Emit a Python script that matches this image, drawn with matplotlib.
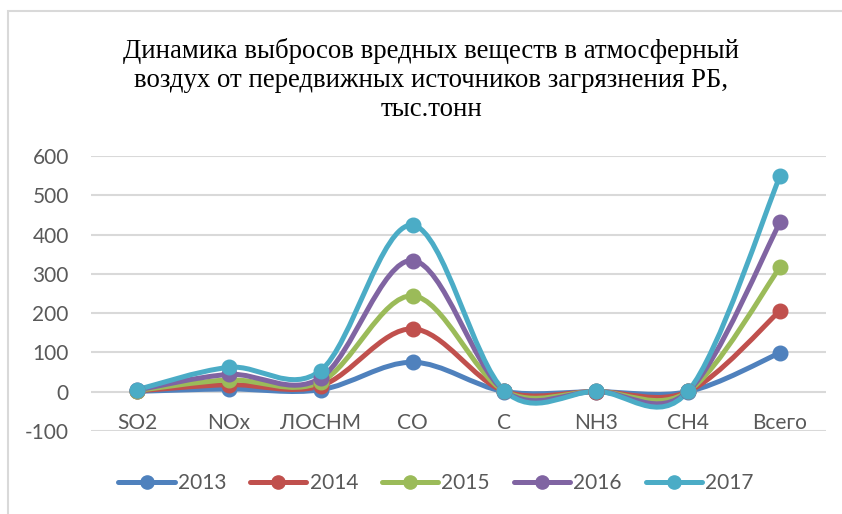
import numpy as np
import matplotlib
matplotlib.use("Agg")
import matplotlib.pyplot as plt
from matplotlib.path import Path
from matplotlib.patches import PathPatch, Rectangle
from matplotlib.lines import Line2D
from matplotlib.transforms import offset_copy

categories = ["SO2", "NOx", "ЛОСНМ", "CO", "C", "NH3", "CH4", "Всего"]
years = ["2013", "2014", "2015", "2016", "2017"]
values = {
    "2013": [1, 7, 5, 75, 0.5, 0.2, 0.3, 99],
    "2014": [2, 18, 15, 160, 1.0, 0.4, 0.6, 206],
    "2015": [3, 30, 25, 244, 1.5, 0.6, 0.9, 317],
    "2016": [4, 44, 35, 334, 2.0, 0.8, 1.2, 431],
    "2017": [5, 62, 54, 424, 2.5, 1.0, 1.5, 549],
}
colors = ["#4f81bd", "#c0504d", "#9bbb59", "#8064a2", "#4bacc6"]
yticks = [-100, 0, 100, 200, 300, 400, 500, 600]

W, H, DPI = 842, 514, 100
FONT = "Lato"
FS = 15
TXT = "#595959"

fig = plt.figure(figsize=(W / DPI, H / DPI), dpi=DPI)

# chart-area border (left and top edges visible)
fig.patches.append(Rectangle((8 / W, -0.1), 1.2, 1 - 11 / H + 0.1,
                             transform=fig.transFigure, fill=False,
                             edgecolor="#d9d9d9", linewidth=1.5))

ax = fig.add_axes([91 / W, 1 - 431 / H, (826 - 91) / W, (431 - 156) / H])
ax.set_xlim(-0.5, len(categories) - 0.5)
ax.set_ylim(-100, 600)
for s in ax.spines.values():
    s.set_visible(False)
ax.set_yticks(yticks)
ax.set_yticklabels([str(t) for t in yticks])
ax.tick_params(axis="y", length=0, pad=16, labelsize=FS, labelcolor=TXT)
ax.tick_params(axis="x", length=0, labelbottom=False)
for lbl in ax.get_yticklabels():
    lbl.set_family(FONT)
ax.yaxis.grid(True, color="#d9d9d9", linewidth=1.5)
ax.set_axisbelow(True)

# category labels sit just below the zero line
lab_tr = offset_copy(ax.transData, fig=fig, x=0, y=-21, units="dots")
for i, c in enumerate(categories):
    ax.text(i, 0, c, transform=lab_tr, ha="center", va="top",
            fontsize=FS, color=TXT, family=FONT)


def smooth_path(xs, ys):
    """Cubic Bezier path through the points with Catmull-Rom tangents."""
    pts = np.column_stack([xs, ys]).astype(float)
    n = len(pts)
    verts = [pts[0]]
    codes = [Path.MOVETO]
    for i in range(n - 1):
        p0 = pts[i - 1] if i > 0 else pts[i]
        p1 = pts[i]
        p2 = pts[i + 1]
        p3 = pts[i + 2] if i + 2 < n else pts[i + 1]
        c1 = p1 + (p2 - p0) / 6.0
        c2 = p2 - (p3 - p1) / 6.0
        verts += [c1, c2, p2]
        codes += [Path.CURVE4] * 3
    return Path(verts, codes)


LW = 3.6
MS = 10.5
x = np.arange(len(categories))
for yr, col in zip(years, colors):
    ys = values[yr]
    ax.add_patch(PathPatch(smooth_path(x, ys), facecolor="none", edgecolor=col,
                           linewidth=LW, capstyle="round", joinstyle="round",
                           zorder=3))
    ax.plot(x, ys, linestyle="none", marker="o", markersize=MS,
            color=col, zorder=4)

fig.text(431 / W, 1 - 80 / H, "Динамика выбросов вредных веществ в атмосферный\n"
         "воздух от передвижных источников загрязнения РБ,\nтыс.тонн",
         ha="center", va="center", fontsize=19.3, family="Liberation Serif",
         linespacing=1.2, color="#000000")

handles = [Line2D([], [], color=c, linewidth=LW, marker="o", markersize=9.5,
                  solid_capstyle="round") for c in colors]
fig.legend(handles, years, loc="center", bbox_to_anchor=(436 / W, 1 - 483 / H),
           ncol=5, frameon=False, handlelength=2.7, handletextpad=0.15,
           columnspacing=1.15, numpoints=1,
           prop={"family": FONT, "size": FS}, labelcolor=TXT)

fig.savefig("out.png", dpi=DPI)
